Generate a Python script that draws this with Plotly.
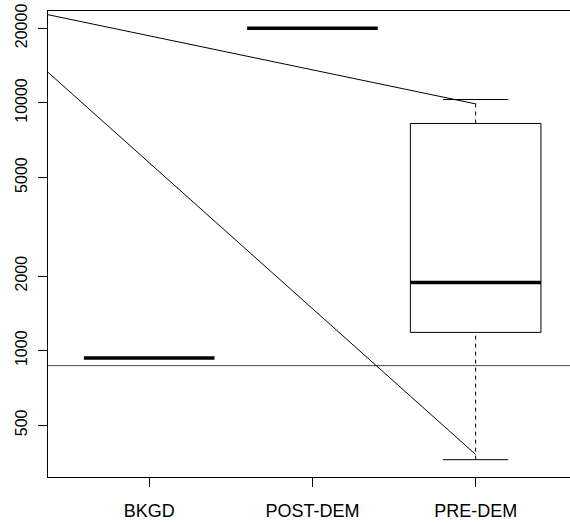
import plotly.graph_objects as go

# ---- data ----
categories = ["BKGD", "POST-DEM", "PRE-DEM"]
positions = [1, 2, 3]
lower_whisker = [935, 20000, 363]
q1 = [935, 20000, 1185]
medians = [935, 20000, 1884]
q3 = [935, 20000, 8260]
upper_whisker = [935, 20000, 10320]

ref_level = 870                     # horizontal reference line
line1_x = [0.38, 3]
line1_y = [22700, 9910]
line2_x = [0.38, 3]
line2_y = [13290, 381]

ytick_vals = [500, 1000, 2000, 5000, 10000, 20000]
ytick_text = ["500", "1000", "2000", "5000", "10000", "20000"]

box_half = 0.4
cap_half = 0.2

fig = go.Figure()

def add_line(x, y, width=1, dash=None, color="black"):
    fig.add_trace(go.Scatter(x=x, y=y, mode="lines",
                             line=dict(color=color, width=width, dash=dash),
                             hoverinfo="skip", showlegend=False))

# boxes
for i, p in enumerate(positions):
    if q3[i] > q1[i]:
        add_line([p - box_half, p + box_half, p + box_half, p - box_half, p - box_half],
                 [q1[i], q1[i], q3[i], q3[i], q1[i]])
    if upper_whisker[i] > q3[i]:
        add_line([p, p], [q3[i], upper_whisker[i]], dash="4px,4px")
        add_line([p - cap_half, p + cap_half], [upper_whisker[i], upper_whisker[i]])
    if lower_whisker[i] < q1[i]:
        add_line([p, p], [lower_whisker[i], q1[i]], dash="4px,4px")
        add_line([p - cap_half, p + cap_half], [lower_whisker[i], lower_whisker[i]])
    add_line([p - box_half, p + box_half], [medians[i], medians[i]], width=3.5)

# reference and diagonal lines
add_line([0.38, 3.578], [ref_level, ref_level], color="#444444")
add_line(line1_x, line1_y)
add_line(line2_x, line2_y)

fig.update_layout(
    width=570, height=523,
    margin=dict(l=48, r=0, t=11, b=46),
    paper_bgcolor="white", plot_bgcolor="white",
    font=dict(family="Liberation Sans, Arial, sans-serif", color="black"),
    showlegend=False,
)
fig.update_xaxes(
    range=[0.38, 3.578], tickvals=positions, ticktext=categories,
    showline=True, linecolor="black", linewidth=1, mirror=True,
    ticks="outside", ticklen=9, tickcolor="black", tickwidth=1,
    showgrid=False, zeroline=False, tickfont=dict(size=18),
    ticklabelstandoff=8,
)
fig.update_yaxes(
    type="log", range=[2.490, 4.371], tickvals=ytick_vals, ticktext=ytick_text,
    showline=True, linecolor="black", linewidth=1, mirror=False,
    ticks="outside", ticklen=9, tickcolor="black", tickwidth=1,
    showgrid=False, zeroline=False, tickangle=-90, tickfont=dict(size=16),
    ticklabelstandoff=5,
)

fig.write_html("out.html")
